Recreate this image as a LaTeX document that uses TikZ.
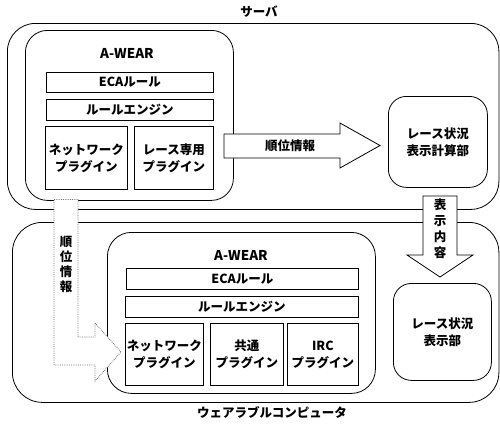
\documentclass[tikz,border=0pt]{standalone}
\usepackage{fontspec}
\setmainfont{Noto Sans CJK JP}
\begin{document}
\begin{tikzpicture}[x=1pt,y=-1pt,line width=0.8pt,
  every node/.style={font=\fontsize{12.5}{17}\selectfont\bfseries},
  rbox/.style={draw,anchor=north west,inner sep=0pt,align=center},
  bar/.style={rbox},
  plain/.style={inner sep=0pt,align=center},
  blockarrow/.style={draw,fill=white,line join=miter},
  dotarrow/.style={draw=black!55,densely dotted,fill=white,line join=miter}]
\useasboundingbox (0,0) rectangle (500,424);
% outer containers
\node[rbox,rounded corners=28pt,minimum width=491.5pt,minimum height=186pt] (server) at (7,23) {};
\node[rbox,rounded corners=30pt,minimum width=486.5pt,minimum height=180pt] (wear) at (12,222) {};
\node[plain] (serverlbl) at (259,12) {サーバ};
\node[plain] (wearlbl) at (272,413) {ウェアラブルコンピュータ};
% server A-WEAR
\node[rbox,rounded corners=22pt,minimum width=208pt,minimum height=170pt] (sawear) at (25,30) {};
\node[plain,font=\fontsize{13.5}{17}\selectfont\bfseries] (sawt) at (127,53) {A-WEAR};
\node[bar,minimum width=167pt,minimum height=20pt] (seca) at (46,72) {ECAルール};
\node[bar,minimum width=167pt,minimum height=21pt] (seng) at (46,99) {ルールエンジン};
\node[rbox,minimum width=82pt,minimum height=63pt] (snet) at (45,126) {ネットワーク\\プラグイン};
\node[rbox,minimum width=79pt,minimum height=63pt] (srace) at (134,126) {レース専用\\プラグイン};
% calc box
\node[rbox,rounded corners=18pt,minimum width=99pt,minimum height=91pt] (calc) at (388,96) {レース状況\\表示計算部};
% wearable A-WEAR
\node[rbox,rounded corners=24pt,minimum width=268pt,minimum height=161pt] (wawear) at (107,232) {};
\node[plain,font=\fontsize{13.5}{17}\selectfont\bfseries] (wawt) at (241,255) {A-WEAR};
\node[bar,minimum width=232pt,minimum height=21pt] (weca) at (126,268) {ECAルール};
\node[bar,minimum width=233pt,minimum height=21pt] (weng) at (125,296) {ルールエンジン};
\node[rbox,minimum width=78pt,minimum height=62pt] (wnet) at (125,323) {ネットワーク\\プラグイン};
\node[rbox,minimum width=73pt,minimum height=62pt] (wcom) at (210,323) {共通\\プラグイン};
\node[rbox,minimum width=71pt,minimum height=62pt] (wirc) at (287,323) {IRC\\プラグイン};
\node[rbox,rounded corners=18pt,minimum width=98pt,minimum height=97pt] (disp) at (393,283) {レース状況\\表示部};
% block arrows
\draw[blockarrow] (224,134) -- (340,134) -- (340,123) -- (380,145.5) -- (340,168) -- (340,158) -- (224,158) -- cycle;
\node[plain] (rank1) at (290,146) {順位情報};
\draw[blockarrow] (423,196) -- (457,196) -- (457,255) -- (473,255) -- (440,277) -- (407,255) -- (423,255) -- cycle;
\node[plain,font=\fontsize{12.5}{16}\selectfont\bfseries] (dispc) at (440,229) {表\\示\\内\\容};
\draw[dotarrow] (54,199.5) -- (78,199.5) -- (78,337) -- (95,337) -- (95,323) -- (121,352) -- (95,381) -- (95,365) -- (54,365) -- cycle;
\node[plain,font=\fontsize{12.5}{15}\selectfont\bfseries] (rank2) at (66,264) {順\\位\\情\\報};
\end{tikzpicture}
\end{document}
